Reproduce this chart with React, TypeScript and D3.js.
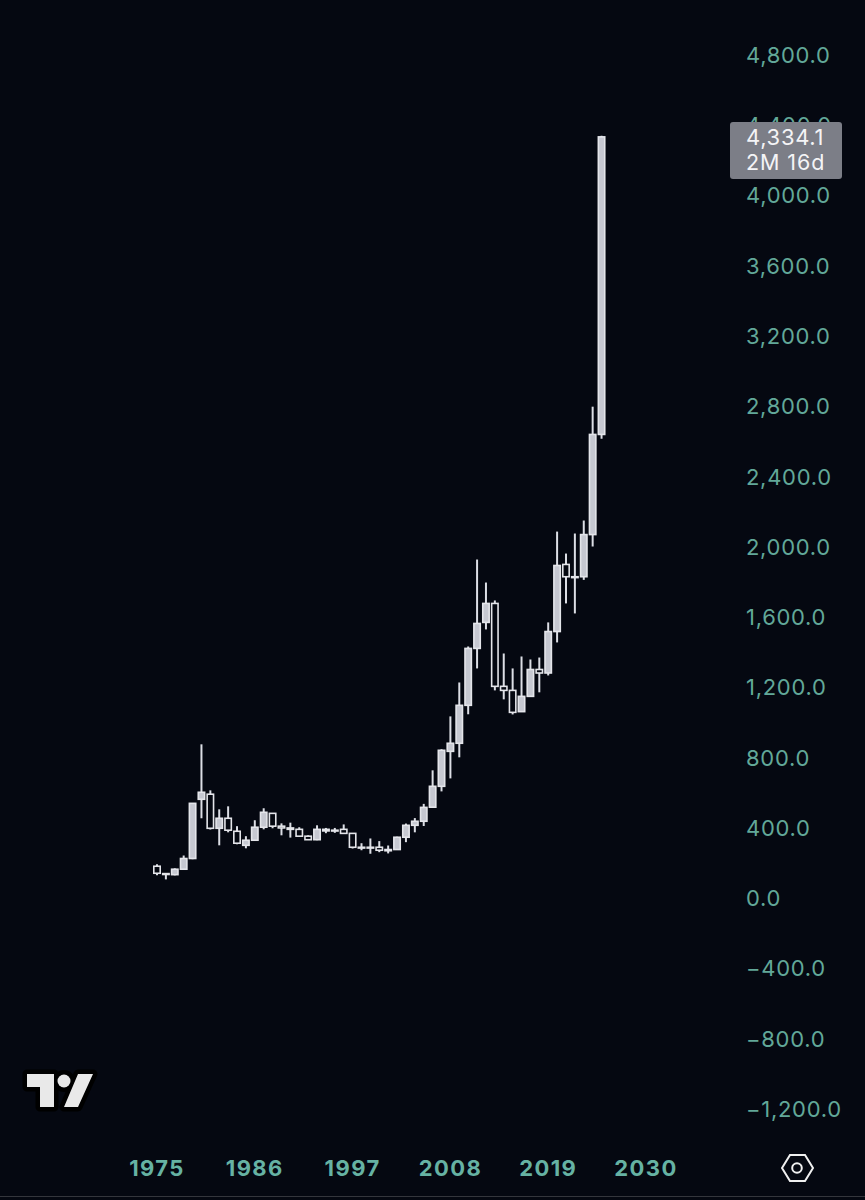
import React, { useRef, useEffect } from 'react';
import * as d3 from 'd3';

const years = d3.range(1975, 2026);
const opens = [182, 140, 134, 165, 226, 563, 592, 398, 455, 381, 301, 330, 404, 483, 410, 400, 392, 353, 333, 392, 383, 392, 369, 290, 288, 290, 270, 277, 347, 415, 438, 518, 637, 836, 882, 1098, 1422, 1570, 1678, 1206, 1183, 1062, 1149, 1302, 1282, 1518, 1900, 1830, 1830, 2070, 2640];
const closes = [142, 135, 165, 226, 540, 603, 398, 455, 387, 313, 330, 404, 489, 410, 400, 392, 353, 333, 392, 383, 387, 369, 290, 288, 290, 273, 277, 347, 415, 438, 517, 637, 842, 882, 1098, 1422, 1564, 1678, 1206, 1183, 1058, 1149, 1302, 1282, 1518, 1894, 1830, 1825, 2070, 2640, 4334];
const highs = [193, 141, 170, 243, 540, 876, 614, 506, 523, 410, 353, 444, 512, 483, 426, 430, 404, 358, 415, 400, 400, 420, 369, 313, 340, 325, 300, 350, 425, 456, 537, 728, 848, 1035, 1228, 1433, 1928, 1797, 1695, 1393, 1308, 1376, 1359, 1370, 1570, 2087, 1962, 2076, 2150, 2798, 4340];
const lows = [131, 107, 130, 165, 222, 455, 391, 301, 375, 307, 284, 330, 392, 398, 358, 345, 353, 333, 330, 370, 372, 367, 283, 273, 253, 262, 255, 277, 319, 375, 411, 518, 608, 682, 802, 1047, 1308, 1530, 1183, 1132, 1046, 1062, 1149, 1172, 1268, 1456, 1678, 1621, 1812, 2002, 2615];

const priceTicks = [4800, 4400, 4000, 3600, 3200, 2800, 2400, 2000, 1600, 1200, 800, 400, 0, -400, -800, -1200];
const yearTicks = [1975, 1986, 1997, 2008, 2019, 2030];
const lastPrice = '4,334.1';
const countdown = '2M 16d';

const width = 865;
const height = 1200;
const bg = '#050811';
const teal = '#62a899';
const font = 'Inter, "Noto Sans", sans-serif';

const formatPrice = (v: number) => (v < 0 ? '\u2212' : '') + d3.format(',.1f')(Math.abs(v));

const App = () => {
    const svgRef = useRef<SVGSVGElement | null>(null);

    useEffect(() => {
        const svg = d3.select(svgRef.current);
        svg.selectAll('*').remove();

        const x = d3.scaleLinear().domain([1975, 2030]).range([157, 646]);
        const y = d3.scaleLinear().domain([-1200, 4800]).range([1109, 55]);

        svg.append('rect').attr('width', width).attr('height', height).attr('fill', bg);

        // Price labels
        svg.append('g')
            .selectAll('text')
            .data(priceTicks)
            .join('text')
            .attr('x', 746)
            .attr('y', (d) => y(d))
            .attr('dy', '0.36em')
            .attr('font-family', font)
            .attr('font-size', 22)
            .attr('letter-spacing', 0.7)
            .attr('fill', teal)
            .text(formatPrice);

        // Year labels
        svg.append('g')
            .selectAll('text')
            .data(yearTicks)
            .join('text')
            .attr('x', (d) => x(d))
            .attr('y', 1168)
            .attr('dy', '0.36em')
            .attr('text-anchor', 'middle')
            .attr('font-family', font)
            .attr('font-size', 22)
            .attr('font-weight', 700)
            .attr('letter-spacing', 1.4)
            .attr('fill', '#66b2a3')
            .text((d) => d);

        // Candles
        const candles = svg.append('g').selectAll('g').data(years).join('g');

        candles
            .append('line')
            .attr('x1', (d) => x(d))
            .attr('x2', (d) => x(d))
            .attr('y1', (_, i) => y(highs[i]))
            .attr('y2', (_, i) => y(lows[i]))
            .attr('stroke', '#dcdee5')
            .attr('stroke-width', 2);

        candles
            .append('rect')
            .attr('x', (d) => x(d) - 3.2)
            .attr('width', 6.4)
            .attr('y', (_, i) => y(Math.max(opens[i], closes[i])))
            .attr('height', (_, i) => Math.max(0.8, Math.abs(y(opens[i]) - y(closes[i]))))
            .attr('fill', (_, i) => (closes[i] < opens[i] ? bg : '#c6c8d1'))
            .attr('stroke', '#e4e5ea')
            .attr('stroke-width', 1.6);

        // Last price tag
        const tag = svg.append('g');
        tag.append('rect')
            .attr('x', 730)
            .attr('y', 122)
            .attr('width', 112)
            .attr('height', 57)
            .attr('rx', 3)
            .attr('fill', '#7c7e87');
        tag.append('text')
            .attr('x', 746)
            .attr('y', 137)
            .attr('dy', '0.36em')
            .attr('font-family', font)
            .attr('font-size', 22)
            .attr('letter-spacing', 0.7)
            .attr('fill', '#f4f4f6')
            .text(lastPrice);
        tag.append('text')
            .attr('x', 746)
            .attr('y', 162)
            .attr('dy', '0.36em')
            .attr('font-family', font)
            .attr('font-size', 21.5)
            .attr('letter-spacing', 0.9)
            .attr('fill', '#f4f4f6')
            .text(countdown);

        // Logo
        const logo = svg.append('g');
        const logoParts = 'M27 1074H54V1107H40V1087H27Z M78 1074H93L78 1107H64Z';
        logo.append('path')
            .attr('d', logoParts)
            .attr('fill', '#000')
            .attr('stroke', '#000')
            .attr('stroke-width', 9)
            .attr('stroke-linejoin', 'round');
        logo.append('circle').attr('cx', 64).attr('cy', 1081).attr('r', 11).attr('fill', '#000');
        logo.append('path').attr('d', logoParts).attr('fill', '#e9e9e9');
        logo.append('circle').attr('cx', 64).attr('cy', 1081).attr('r', 6.5).attr('fill', '#e9e9e9');

        // Settings icon
        const icon = svg.append('g').attr('fill', 'none').attr('stroke', '#f0f0f0').attr('stroke-width', 2);
        icon.append('path').attr('d', 'M782 1168L790 1155H805L813 1168L805 1181H790Z');
        icon.append('circle').attr('cx', 797).attr('cy', 1168).attr('r', 4.8);

        svg.append('line')
            .attr('x1', 0)
            .attr('x2', width)
            .attr('y1', 1196.5)
            .attr('y2', 1196.5)
            .attr('stroke', '#34363c')
            .attr('stroke-width', 1);
    }, []);

    return (
        <svg
            ref={svgRef}
            width={width}
            height={height}
            style={{ position: 'absolute', left: 0, top: 0, display: 'block' }}
        ></svg>
    );
};

export default App;
